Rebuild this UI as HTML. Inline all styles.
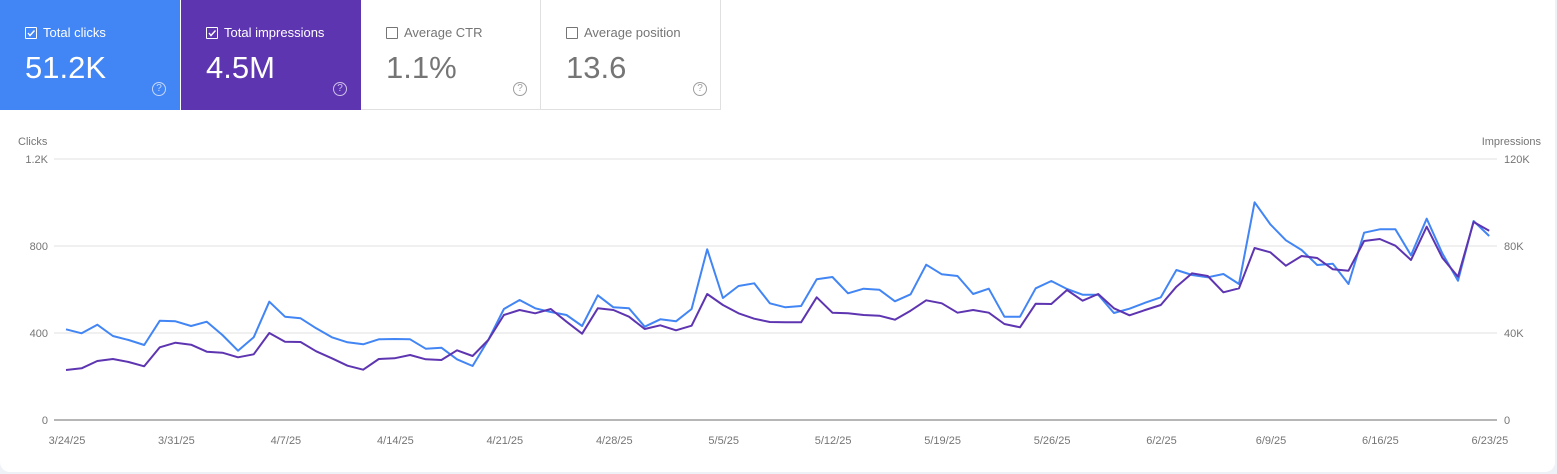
<!DOCTYPE html>
<html><head><meta charset="utf-8"><style>
html,body{margin:0;padding:0;background:#eef1f6;}
body{width:1557px;height:474px;overflow:hidden;font-family:"Liberation Sans",sans-serif;}
#wrap{position:absolute;left:0;top:0;width:1555px;height:472px;background:#fff;border-radius:0 0 10px 10px;overflow:hidden;}
.card{position:absolute;top:0;height:110px;width:180px;box-sizing:border-box;}
.lbl{position:absolute;left:25px;top:25px;font-size:13px;}
.cb{display:inline-block;width:10px;height:10px;border:1.3px solid;border-radius:1px;vertical-align:-2px;margin-right:6px;position:relative;}
.num{position:absolute;left:25px;top:50px;font-size:31px;}
.help{position:absolute;left:152px;top:82px;width:12px;height:12px;border:1.3px solid;border-radius:50%;font-size:10px;line-height:12px;text-align:center;}
</style></head><body><div id="wrap">
<div class="card" style="left:0;background:#4285f4;color:#fff;">
<div class="lbl"><span class="cb" style="border-color:#fff"><svg width="10" height="10" style="position:absolute;left:0;top:0"><path d="M2 5 L4 7.5 L8.5 2.5" stroke="#fff" stroke-width="1.4" fill="none"/></svg></span>Total clicks</div>
<div class="num">51.2K</div><div class="help" style="border-color:#c6d9fb;color:#c6d9fb">?</div></div>
<div class="card" style="left:181px;background:#5e35b1;color:#fff">
<div class="lbl"><span class="cb" style="border-color:#fff"><svg width="10" height="10" style="position:absolute;left:0;top:0"><path d="M2 5 L4 7.5 L8.5 2.5" stroke="#fff" stroke-width="1.4" fill="none"/></svg></span>Total impressions</div>
<div class="num">4.5M</div><div class="help" style="border-color:#cfc2ea;color:#cfc2ea">?</div></div>
<div class="card" style="left:361px;background:#fff;color:#757575;border-right:1px solid #e0e0e0;border-bottom:1px solid #e0e0e0">
<div class="lbl"><span class="cb" style="border-color:#757575"></span>Average CTR</div>
<div class="num">1.1%</div><div class="help" style="border-color:#9e9e9e;color:#9e9e9e">?</div></div>
<div class="card" style="left:541px;background:#fff;color:#757575;border-right:1px solid #e0e0e0;border-bottom:1px solid #e0e0e0">
<div class="lbl"><span class="cb" style="border-color:#757575"></span>Average position</div>
<div class="num">13.6</div><div class="help" style="border-color:#9e9e9e;color:#9e9e9e">?</div></div>
<svg id="ch" width="1557" height="474" style="position:absolute;left:0;top:0" font-family="Liberation Sans, sans-serif" font-size="11" fill="#757575">
<text x="18" y="145">Clicks</text>
<text x="1541" y="145" text-anchor="end">Impressions</text>
<g stroke="#ececec" stroke-width="1.5">
<line x1="54" x2="1497" y1="159" y2="159"/><line x1="54" x2="1497" y1="246" y2="246"/><line x1="54" x2="1497" y1="333" y2="333"/></g>
<line x1="54" x2="1497" y1="420" y2="420" stroke="#9e9e9e" stroke-width="1.5"/>
<g text-anchor="end"><text x="48" y="163">1.2K</text><text x="48" y="250">800</text><text x="48" y="337">400</text><text x="48" y="424">0</text></g>
<g><text x="1504" y="163">120K</text><text x="1504" y="250">80K</text><text x="1504" y="337">40K</text><text x="1504" y="424">0</text></g>
<g id="xl" text-anchor="middle"></g>
<polyline id="pb" fill="none" stroke="#4285f4" stroke-width="2" stroke-linejoin="round"/>
<polyline id="pp" fill="none" stroke="#5e35b1" stroke-width="2" stroke-linejoin="round"/>
</svg>
</div>
<script>
var b1=[448,460,434,468,480,495,422,424,438,425,465,512,472,365,410,415,445,472,487,493,478,477,478,506,503,538,558,480,387,360,385,396,405,438,346,382,385,440,418,424,387,208,354,318,310,370];
var p1=[570,565,543,537,546,559,502,488,494,515,518,532,523,459,485,486,514,535,557,569,537,535,525,538,540,511,528,480,405,390,400,387,425,461,385,390,410,447,436,451,437,342,375,400,416,426];
var b2=[382,378,298,291,340,326,329,364,343,254,283,288,342,326,410,410,325,303,327,344,344,399,386,368,352,270,285,292,282,312,67,133,181,210,255,251,312,158,148,148,226,116,220,302,123,168];
var p2=[427,427,352,398,400,405,407,419,392,361,370,398,390,398,432,442,371,372,330,362,342,385,406,390,375,320,280,288,337,325,204,217,257,228,234,268,272,183,177,197,240,140,233,290,126,152];
var B=b1.concat(b2),P=p1.concat(p2);
function pts(a){return a.map(function(z,i){return (66+15.64*i).toFixed(1)+","+(180+z/3).toFixed(1)}).join(" ");}
document.getElementById("pb").setAttribute("points",pts(B));
document.getElementById("pp").setAttribute("points",pts(P));
var L=["3/24/25","3/31/25","4/7/25","4/14/25","4/21/25","4/28/25","5/5/25","5/12/25","5/19/25","5/26/25","6/2/25","6/9/25","6/16/25","6/23/25"];
var g=document.getElementById("xl"),h="";
L.forEach(function(s,i){h+='<text x="'+(67+109.45*i).toFixed(1)+'" y="444">'+s+'</text>';});
g.innerHTML=h;
</script>
</body></html>
